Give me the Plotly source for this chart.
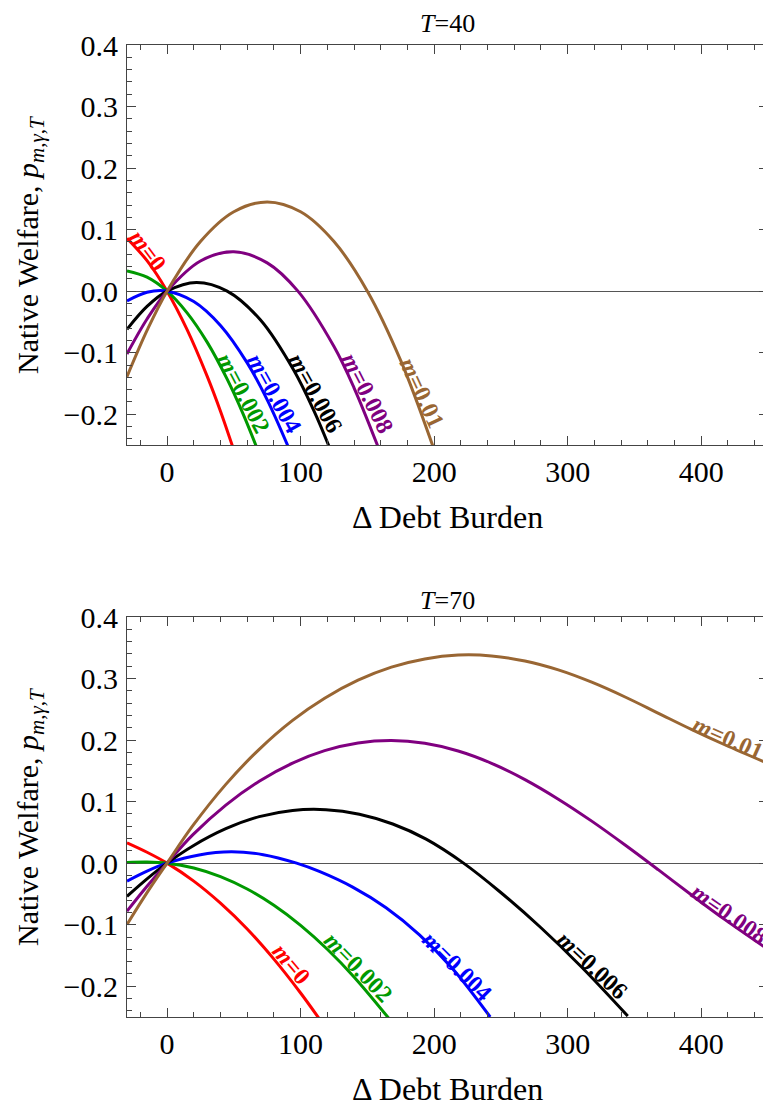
import plotly.graph_objects as go

# ---------------- data ----------------
labels = ["m=0", "m=0.002", "m=0.004", "m=0.006", "m=0.008", "m=0.01"]
colors = ["#ff0000", "#009900", "#0000ff", "#000000", "#800080", "#996633"]

# Panel T=40
x40_m0 = [-30, -15, 0, 15, 30, 40, 49]
y40_m0 = [0.086, 0.0495, 0, -0.0624, -0.138, -0.195, -0.252]
x40_m2 = [-30, -15, 0, 15, 30, 45, 57, 67]
y40_m2 = [0.033, 0.0227, 0, -0.0352, -0.0828, -0.143, -0.1998, -0.2534]
x40_m4 = [-30, -15, 0, 20, 40, 60, 75, 91]
y40_m4 = [-0.016, -0.0018, 0, -0.0168, -0.0557, -0.1165, -0.1766, -0.2543]
x40_m6 = [-30, -15, 0, 22, 45, 70, 95, 110, 122]
y40_m6 = [-0.062, -0.0248, 0, 0.0141, 0, -0.047, -0.129, -0.1945, -0.256]
x40_m8 = [-30, -15, 0, 25, 50, 75, 98, 125, 140, 158]
y40_m8 = [-0.102, -0.0453, 0, 0.049, 0.064, 0.046, 0, -0.090, -0.157, -0.253]
x40_m10 = [-30, -15, 0, 25, 50, 75, 100, 125, 150, 175, 199]
y40_m10 = [-0.139, -0.0639, 0, 0.0806, 0.129, 0.145, 0.129, 0.0806, 0, -0.1129, -0.2516]

# Panel T=70
x70_m0 = [-30, -15, 0, 20, 40, 60, 80, 100, 114]
y70_m0 = [0.033, 0.0177, 0, -0.0292, -0.065, -0.107, -0.156, -0.211, -0.253]
x70_m2 = [-30, -15, 0, 20, 40, 60, 80, 100, 120, 140, 166]
y70_m2 = [0.001, 0.0017, 0, -0.0078, -0.0218, -0.042, -0.0684, -0.101, -0.1399, -0.1849, -0.252]
x70_m4 = [-30, -15, 0, 24, 48, 72, 97, 114, 139, 164, 189, 214, 242]
y70_m4 = [-0.0292, -0.0129, 0, 0.0134, 0.0184, 0.0138, 0, -0.0135, -0.039, -0.0725, -0.1165, -0.172, -0.250]
x70_m6 = [-30, -15, 0, 19, 44, 69, 94, 119, 144, 169, 194, 222, 249, 280, 310, 345]
y70_m6 = [-0.054, -0.0255, 0, 0.0276, 0.056, 0.0756, 0.0857, 0.0869, 0.0795, 0.0636, 0.039, 0, -0.0461, -0.105, -0.168, -0.2485]
x70_m8 = [-30, -15, 0, 19, 44, 69, 94, 118, 143, 168, 193, 218, 243, 268, 293, 318, 343, 368, 393, 418, 450]
y70_m8 = [-0.078, -0.0375, 0, 0.0456, 0.0944, 0.1331, 0.1626, 0.1828, 0.1953, 0.1993, 0.1948, 0.1823, 0.1623, 0.1358, 0.104, 0.0683, 0.0295, -0.011, -0.0522, -0.0922, -0.1402]
x70_m10 = [-30, -15, 0, 19, 44, 69, 94, 118, 143, 168, 193, 218, 243, 268, 293, 318, 343, 368, 393, 418, 450]
y70_m10 = [-0.0997, -0.048, 0, 0.060, 0.128, 0.185, 0.232, 0.268, 0.2973, 0.3185, 0.3318, 0.3381, 0.3368, 0.3285, 0.314, 0.294, 0.270, 0.2435, 0.217, 0.192, 0.162]

x_ticks = [0, 100, 200, 300, 400]
y_ticks = [-0.2, -0.1, 0.0, 0.1, 0.2, 0.3, 0.4]
panel_titles = ["<i>T</i>=40", "<i>T</i>=70"]
x_title = "Δ Debt Burden"
y_title = "Native Welfare, <i>p</i><sub><i>m</i>,<i>γ</i>,<i>T</i></sub>"

series40 = [(x40_m0, y40_m0), (x40_m2, y40_m2), (x40_m4, y40_m4),
            (x40_m6, y40_m6), (x40_m8, y40_m8), (x40_m10, y40_m10)]
series70 = [(x70_m0, y70_m0), (x70_m2, y70_m2), (x70_m4, y70_m4),
            (x70_m6, y70_m6), (x70_m8, y70_m8), (x70_m10, y70_m10)]

# label placement (x, y, angle) per panel
lab40 = [(-14, 0.066, 53), (57, -0.166, 62), (80, -0.166, 61),
         (111, -0.166, 61), (150, -0.166, 63), (191, -0.165, 65)]
lab70 = [(93, -0.164, 50), (143, -0.169, 46), (217, -0.167, 45),
         (318, -0.166, 43), (421, -0.083, 35), (420, 0.204, 24)]

# ---------------- figure ----------------
# the page body has an 8px margin, so the figure is sized 8px smaller
W, H = 763, 1098
ML, MR, MT, MB = 119, 3, 37, 89
PH = H - MT - MB
SERIF = "Liberation Serif"
TOP = [1 - 400 / PH, 1.0]
BOT = [0.0, 400 / PH]

fig = go.Figure()
for (xs, ys), c in zip(series40, colors):
    fig.add_trace(go.Scatter(x=xs, y=ys, mode="lines",
                             line=dict(color=c, width=3, shape="spline", smoothing=1.0),
                             xaxis="x", yaxis="y", showlegend=False, hoverinfo="skip"))
for (xs, ys), c in zip(series70, colors):
    fig.add_trace(go.Scatter(x=xs, y=ys, mode="lines",
                             line=dict(color=c, width=3, shape="spline", smoothing=1.0),
                             xaxis="x2", yaxis="y2", showlegend=False, hoverinfo="skip"))

annotations = []
for (lx, ly, ang), txt, c in zip(lab40, labels, colors):
    annotations.append(dict(x=lx, y=ly, xref="x", yref="y", text="<b><i>m</i>" + txt[1:] + "</b>",
                            textangle=ang, showarrow=False, font=dict(family=SERIF, size=24, color=c)))
for (lx, ly, ang), txt, c in zip(lab70, labels, colors):
    annotations.append(dict(x=lx, y=ly, xref="x2", yref="y2", text="<b><i>m</i>" + txt[1:] + "</b>",
                            textangle=ang, showarrow=False, font=dict(family=SERIF, size=24, color=c)))

# panel titles
PFONT = dict(family=SERIF, size=26, color="black")
annotations.append(dict(x=0.5, y=TOP[1], xref="paper", yref="paper", text=panel_titles[0], showarrow=False,
                        yanchor="middle", yshift=22, font=PFONT))
annotations.append(dict(x=0.5, y=BOT[1], xref="paper", yref="paper", text=panel_titles[1], showarrow=False,
                        yanchor="middle", yshift=17, font=PFONT))
# x titles
XFONT = dict(family=SERIF, size=32, color="black")
annotations.append(dict(x=0.5, y=TOP[0], xref="paper", yref="paper", text=x_title, showarrow=False,
                        yanchor="middle", yshift=-72, font=XFONT))
annotations.append(dict(x=0.5, y=BOT[0], xref="paper", yref="paper", text=x_title, showarrow=False,
                        yanchor="middle", yshift=-72, font=XFONT))
# y titles
YFONT = dict(family=SERIF, size=30, color="black")
for dom in (TOP, BOT):
    annotations.append(dict(x=0, y=(dom[0] + dom[1]) / 2, xref="paper", yref="paper", text=y_title,
                            showarrow=False, textangle=-90, xanchor="center", yanchor="middle",
                            xshift=-97, font=YFONT))
fig.update_layout(annotations=annotations)


def xax(anchor):
    return dict(range=[-30, 450], tickmode="array", tickvals=x_ticks, ticks="inside", ticklen=9,
                tickwidth=1, tickcolor="#444", showline=True, linecolor="#444", linewidth=1,
                mirror="allticks", showgrid=False, zeroline=False, anchor=anchor, automargin=False,
                minor=dict(ticks="inside", ticklen=5, tickcolor="#444", dtick=20, tick0=0, showgrid=False),
                tickfont=dict(family=SERIF, size=30, color="black"))


def yax(anchor, dom):
    return dict(range=[-0.25, 0.4], domain=dom, tickmode="array", tickvals=y_ticks, tickformat=".1f",
                ticks="inside", ticklen=9, tickwidth=1, tickcolor="#444", showline=True, linecolor="#444",
                linewidth=1, mirror="allticks", showgrid=False, zeroline=True, zerolinecolor="#555",
                zerolinewidth=1, anchor=anchor, automargin=False, ticklabelstandoff=2,
                minor=dict(ticks="inside", ticklen=5, tickcolor="#444", dtick=0.02, tick0=0, showgrid=False),
                tickfont=dict(family=SERIF, size=30, color="black"))


fig.update_layout(
    width=W, height=H,
    margin=dict(l=ML, r=MR, t=MT, b=MB),
    paper_bgcolor="white", plot_bgcolor="white",
    xaxis=xax("y"), yaxis=yax("x", TOP),
    xaxis2=xax("y2"), yaxis2=yax("x2", BOT),
    showlegend=False,
)

fig.write_html("out.html")
